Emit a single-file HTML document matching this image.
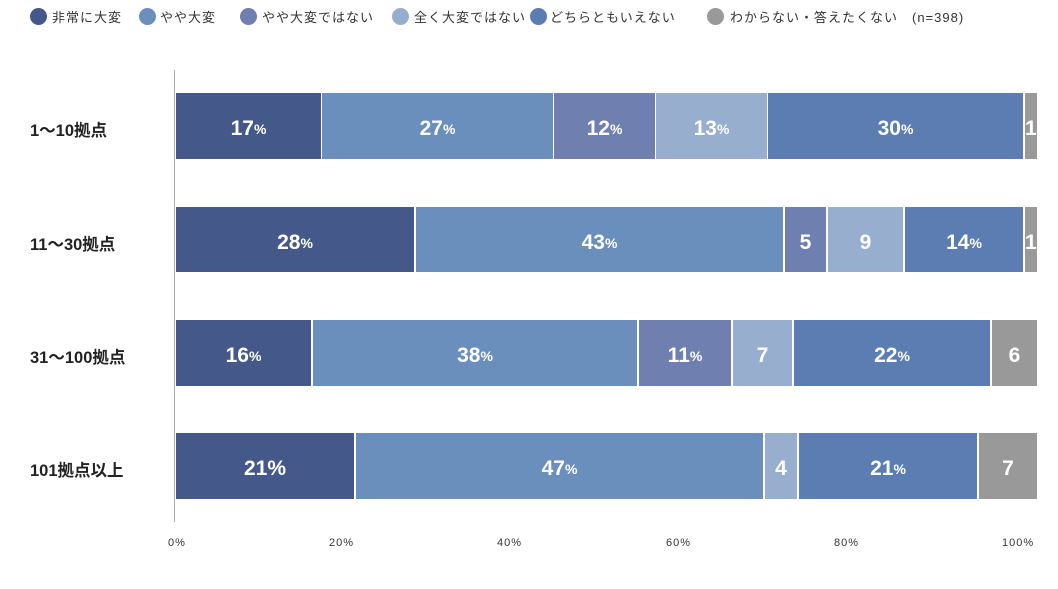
<!DOCTYPE html>
<html><head><meta charset="utf-8"><style>
body{margin:0;width:1058px;height:589px;background:#fff;font-family:"Liberation Sans","Noto Sans CJK JP",sans-serif;position:relative;overflow:hidden}
.a{position:absolute}
.dot{position:absolute;width:17px;height:17px;border-radius:50%;top:8px}
.lt{position:absolute;top:7px;font-size:13px;color:#333;white-space:nowrap;letter-spacing:1px}
.s{position:absolute;display:flex;align-items:center;justify-content:center;color:#fff;font-weight:bold;font-size:21px;box-sizing:border-box;padding-top:6px}
.s small{font-size:14px}
.rl{position:absolute;left:30px;font-size:16.5px;font-weight:bold;color:#222}
.tk{position:absolute;top:537px;font-size:11px;color:#333;letter-spacing:1px}
</style></head><body>
<div class="dot" style="left:30px;background:#44598a"></div><div class="lt" style="left:52px">非常に大変</div>
<div class="dot" style="left:139px;background:#6b8fbd"></div><div class="lt" style="left:160px">やや大変</div>
<div class="dot" style="left:240px;background:#6e7fb0"></div><div class="lt" style="left:262px">やや大変ではない</div>
<div class="dot" style="left:392px;background:#97aecf"></div><div class="lt" style="left:414px">全く大変ではない</div>
<div class="dot" style="left:530px;background:#5b7db1"></div><div class="lt" style="left:550px">どちらともいえない</div>
<div class="dot" style="left:707px;background:#999"></div><div class="lt" style="left:730px">わからない・答えたくない　(n=398)</div>

<div class="a" style="left:174px;top:70px;width:1px;height:452px;background:#aaa"></div>

<div class="rl" style="top:117px">1～10拠点</div>
<div class="rl" style="top:231px">11～30拠点</div>
<div class="rl" style="top:344px">31～100拠点</div>
<div class="rl" style="top:457px">101拠点以上</div>

<div class="s" style="left:176px;width:145px;top:93px;height:66px;background:#44598a">17<small>%</small></div>
<div class="s" style="left:322px;width:231px;top:93px;height:66px;background:#6b8fbd">27<small>%</small></div>
<div class="s" style="left:554px;width:101px;top:93px;height:66px;background:#6e7fb0">12<small>%</small></div>
<div class="s" style="left:656px;width:111px;top:93px;height:66px;background:#97aecf">13<small>%</small></div>
<div class="s" style="left:768px;width:255px;top:93px;height:66px;background:#5b7db1">30<small>%</small></div>
<div class="s" style="left:1025px;width:12px;top:93px;height:66px;background:#999;justify-content:flex-start;overflow:hidden">1</div>

<div class="s" style="left:176px;width:238px;top:207px;height:65px;background:#44598a">28<small>%</small></div>
<div class="s" style="left:416px;width:367px;top:207px;height:65px;background:#6b8fbd">43<small>%</small></div>
<div class="s" style="left:785px;width:41px;top:207px;height:65px;background:#6e7fb0">5</div>
<div class="s" style="left:828px;width:75px;top:207px;height:65px;background:#97aecf">9</div>
<div class="s" style="left:905px;width:118px;top:207px;height:65px;background:#5b7db1">14<small>%</small></div>
<div class="s" style="left:1025px;width:12px;top:207px;height:65px;background:#999;justify-content:flex-start;overflow:hidden">1</div>

<div class="s" style="left:176px;width:135px;top:320px;height:66px;background:#44598a">16<small>%</small></div>
<div class="s" style="left:313px;width:324px;top:320px;height:66px;background:#6b8fbd">38<small>%</small></div>
<div class="s" style="left:639px;width:92px;top:320px;height:66px;background:#6e7fb0">11<small>%</small></div>
<div class="s" style="left:733px;width:59px;top:320px;height:66px;background:#97aecf">7</div>
<div class="s" style="left:794px;width:196px;top:320px;height:66px;background:#5b7db1">22<small>%</small></div>
<div class="s" style="left:992px;width:45px;top:320px;height:66px;background:#999">6</div>

<div class="s" style="left:176px;width:178px;top:433px;height:66px;background:#44598a">21%</div>
<div class="s" style="left:356px;width:407px;top:433px;height:66px;background:#6b8fbd">47<small>%</small></div>
<div class="s" style="left:765px;width:32px;top:433px;height:66px;background:#97aecf">4</div>
<div class="s" style="left:799px;width:178px;top:433px;height:66px;background:#5b7db1">21<small>%</small></div>
<div class="s" style="left:979px;width:58px;top:433px;height:66px;background:#999">7</div>

<div class="tk" style="left:168px">0%</div>
<div class="tk" style="left:329px">20%</div>
<div class="tk" style="left:497px">40%</div>
<div class="tk" style="left:666px">60%</div>
<div class="tk" style="left:834px">80%</div>
<div class="tk" style="left:1002px">100%</div>
</body></html>
